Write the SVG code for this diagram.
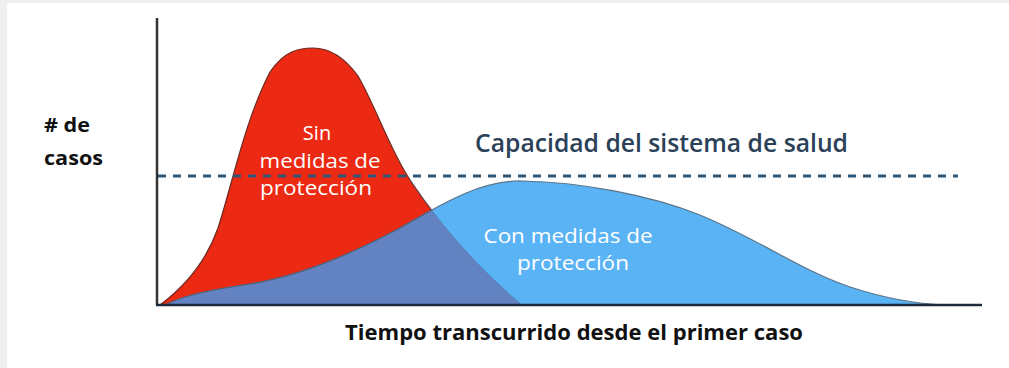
<svg xmlns="http://www.w3.org/2000/svg" width="1009" height="368" viewBox="0 0 1009 368">
  <style>
    .lbl { font-family: "Open Sans", "Liberation Sans", sans-serif; }
    .dark { font-weight: 700; fill: #111; }
    .white { font-weight: 400; fill: #ffffff; font-size: 20px; }
    .cap { font-weight: 600; fill: #2b4157; font-size: 25px; }
  </style>
  <defs>
    <clipPath id="redClip">
      <path d="M160,305 C180,290 205,265 218,228 C232,185 245,120 270,72 C285,50 300,48 313,48 C330,48 345,58 358,76 C375,105 390,150 410,180 C440,225 480,270 522,305 Z"/>
    </clipPath>
  </defs>
  <rect x="0" y="0" width="1009" height="368" fill="#efefef"/>
  <rect x="7" y="3" width="1002" height="365" fill="#ffffff"/>

  <g id="curve-sin">
    <path d="M160,305 C180,290 205,265 218,228 C232,185 245,120 270,72 C285,50 300,48 313,48 C330,48 345,58 358,76 C375,105 390,150 410,180 C440,225 480,270 522,305 Z" fill="#ec2912" stroke="#6a2a22" stroke-width="1.2"/>
  </g>
  <g id="curve-con">
    <path d="M165,305 C185,295 210,290 250,284 C300,276 350,255 400,228 C440,205 480,180 522,181 C580,182 650,195 700,215 C760,240 800,270 850,287 C890,300 920,304 945,305 Z" fill="#5ab3f5" stroke="#5b7488" stroke-width="1.2"/>
    <path clip-path="url(#redClip)" d="M165,305 C185,295 210,290 250,284 C300,276 350,255 400,228 C440,205 480,180 522,181 C580,182 650,195 700,215 C760,240 800,270 850,287 C890,300 920,304 945,305 Z" fill="#6282c2" stroke="#50607a" stroke-width="1.2"/>
    <path d="M410,180 C440,225 480,270 522,305" fill="none" stroke="#4a6a8a" stroke-width="0.8" opacity="0.6"/>
  </g>

  <g id="capacity-line">
    <line x1="158" y1="176" x2="958" y2="176" stroke="#2e5677" stroke-width="3" stroke-dasharray="8 7"/>
  </g>

  <g id="axes">
    <line x1="157" y1="18" x2="157" y2="305" stroke="#333333" stroke-width="2.5"/>
    <line x1="156" y1="305" x2="982" y2="305" stroke="#1c2a3a" stroke-width="2.5"/>
  </g>

  <g id="label-y">
    <text class="lbl dark" x="44" y="132" font-size="20" textLength="46" lengthAdjust="spacingAndGlyphs"># de</text>
    <text class="lbl dark" x="44" y="165" font-size="20" textLength="59" lengthAdjust="spacingAndGlyphs">casos</text>
  </g>
  <g id="label-sin">
    <text class="lbl white" x="317" y="140" text-anchor="middle">Sin</text>
    <text class="lbl white" x="320" y="168" text-anchor="middle" textLength="121" lengthAdjust="spacingAndGlyphs">medidas de</text>
    <text class="lbl white" x="316" y="195" text-anchor="middle" textLength="112" lengthAdjust="spacingAndGlyphs">protección</text>
  </g>
  <g id="label-con">
    <text class="lbl white" x="568" y="243" text-anchor="middle" textLength="169" lengthAdjust="spacingAndGlyphs">Con medidas de</text>
    <text class="lbl white" x="573" y="270" text-anchor="middle" textLength="112" lengthAdjust="spacingAndGlyphs">protección</text>
  </g>
  <g id="label-capacity">
    <text class="lbl cap" x="475" y="152" textLength="373" lengthAdjust="spacingAndGlyphs">Capacidad del sistema de salud</text>
  </g>
  <g id="label-x">
    <text class="lbl dark" x="345" y="340" font-size="21" textLength="458" lengthAdjust="spacingAndGlyphs">Tiempo transcurrido desde el primer caso</text>
  </g>
</svg>
